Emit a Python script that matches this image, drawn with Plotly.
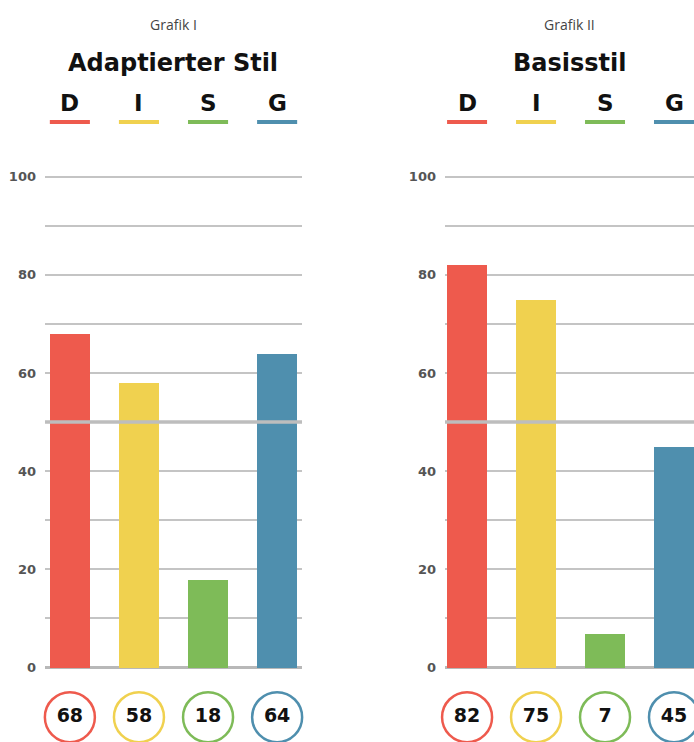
import plotly.graph_objects as go

categories = ["D", "I", "S", "G"]
colors = ["#EE5A4D", "#F0D14F", "#7EBB58", "#4F8FAE"]
values_adapted = [68, 58, 18, 64]
values_basis = [82, 75, 7, 45]
subtitles = ["Grafik I", "Grafik II"]
titles = ["Adaptierter Stil", "Basisstil"]
tick_vals = [0, 20, 40, 60, 80, 100]

W, H = 694, 742
BAR_W = 0.58
x_idx = list(range(len(categories)))

fig = go.Figure()

panels = [
    dict(vals=values_adapted, xa="x", ya="y", xc="x3", yc="y3",
         dom=[45 / W, 302 / W], rng=[-0.36, 3.36]),
    dict(vals=values_basis, xa="x2", ya="y2", xc="x4", yc="y4",
         dom=[445 / W, 1.0], rng=[-0.32, 3.29]),
]

y_dom = [(H - 674.95) / H, (H - 170.05) / H]
c_dom = [0, 44 / H]

layout_axes = {}
for i, p in enumerate(panels):
    n = "" if i == 0 else str(i + 1)
    fig.add_trace(go.Bar(
        x=x_idx, y=p["vals"], width=BAR_W, marker=dict(color=colors, line=dict(width=0)),
        xaxis=p["xa"], yaxis=p["ya"], showlegend=False, hoverinfo="skip"))
    # value circles
    fig.add_trace(go.Scatter(
        x=x_idx, y=[0.5] * len(x_idx), mode="markers+text",
        text=[str(v) for v in p["vals"]], textposition="middle center",
        textfont=dict(family="DejaVu Sans", size=19, color="#111111", weight="bold"),
        marker=dict(size=50, color="white", line=dict(color=colors, width=2.5)),
        xaxis=p["xc"], yaxis=p["yc"], showlegend=False, hoverinfo="skip", cliponaxis=False))

    xk = "xaxis" + n
    yk = "yaxis" + n
    layout_axes[xk] = dict(domain=p["dom"], range=p["rng"], anchor=p["ya"],
                           showgrid=False, zeroline=False, showticklabels=False, fixedrange=True)
    layout_axes[yk] = dict(domain=y_dom, range=[-1, 101], anchor=p["xa"],
                           tickvals=tick_vals, showgrid=True, gridcolor="#C4C4C4", gridwidth=1.5,
                           minor=dict(dtick=10, showgrid=True, gridcolor="#C4C4C4", gridwidth=1.5),
                           zeroline=True, zerolinecolor="#B8B8B8", zerolinewidth=2.5,
                           ticks="", ticklabelstandoff=8,
                           tickfont=dict(family="DejaVu Sans", size=13, color="#555555", weight="bold"))
    cn = str(i + 3)
    layout_axes["xaxis" + cn] = dict(domain=p["dom"], range=p["rng"], anchor="y" + cn,
                                     visible=False, matches=p["xa"])
    layout_axes["yaxis" + cn] = dict(domain=c_dom, range=[0, 1], anchor="x" + cn, visible=False)

    # thick midline at 50
    fig.add_shape(type="line", xref=p["xa"] + " domain", yref=p["ya"], x0=0, x1=1, y0=50, y1=50,
                  line=dict(color="#BDBDBD", width=3.5), layer="above")

    # subtitle & title
    fig.add_annotation(text=subtitles[i], xref=p["xa"] + " domain", yref="paper", x=0.5,
                       y=1 - 22 / H, showarrow=False, yanchor="middle",
                       font=dict(family="Open Sans", size=14, color="#444444"))
    fig.add_annotation(text="<b>" + titles[i] + "</b>", xref=p["xa"] + " domain", yref="paper",
                       x=0.5, y=1 - 60 / H, showarrow=False, yanchor="middle",
                       font=dict(family="DejaVu Sans", size=24, color="#111111"))
    # category letters and colored underline
    for j, c in enumerate(categories):
        fig.add_annotation(text="<b>" + c + "</b>", xref=p["xa"], yref="paper", x=j,
                           y=1 - 101 / H, showarrow=False, yanchor="middle",
                           font=dict(family="DejaVu Sans", size=23, color="#111111"))
        fig.add_shape(type="line", xref=p["xa"], yref="paper", x0=j - BAR_W / 2, x1=j + BAR_W / 2,
                      y0=1 - 120 / H, y1=1 - 120 / H, line=dict(color=colors[j], width=4))

fig.update_layout(
    width=W, height=H, margin=dict(l=0, r=0, t=0, b=0),
    paper_bgcolor="white", plot_bgcolor="white", bargap=0,
    **layout_axes,
)

fig.write_html("out.html")
